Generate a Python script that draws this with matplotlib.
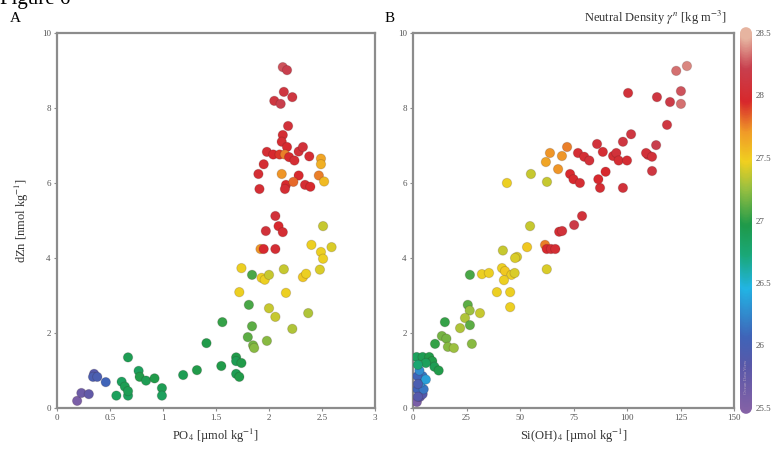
import numpy as np
import matplotlib.pyplot as plt
from matplotlib.colors import LinearSegmentedColormap, Normalize

plt.rcParams['font.family'] = ['Liberation Serif', 'DejaVu Serif']
plt.rcParams['mathtext.fontset'] = 'stix'

# --- panel A: dZn vs PO4 ---
po4 = [0.19, 0.23, 0.30, 0.35, 0.34, 0.38, 0.46,
       0.56, 0.67, 0.61, 0.64, 0.67, 0.67, 0.77, 0.78, 0.84, 0.92, 0.99, 0.99,
       1.19, 1.32, 1.41, 1.56, 1.55, 1.69, 1.69, 1.74, 1.69, 1.72, 1.80, 1.85,
       1.86, 1.81, 1.84, 1.98, 1.84,
       1.74, 1.72, 1.93, 1.96, 2.00, 2.14, 2.16, 2.00, 2.06, 2.22, 2.37, 2.32,
       2.35, 2.48, 2.40, 2.49, 2.51, 2.59, 2.51,
       1.92, 1.95, 2.06, 1.97, 2.09, 2.13, 2.06,
       2.13, 2.17, 2.14, 2.22, 2.05, 2.11, 2.18, 2.13, 2.12, 2.17, 1.98, 2.04,
       2.10, 2.15, 2.19, 2.24, 2.28, 2.32, 2.38, 2.49, 2.49, 1.95, 1.90, 1.91,
       2.12, 2.16, 2.15, 2.28, 2.34, 2.39, 2.47, 2.52, 2.23]
dzn_a = [0.19, 0.40, 0.37, 0.91, 0.83, 0.83, 0.69,
         0.33, 1.35, 0.70, 0.57, 0.33, 0.45, 0.99, 0.83, 0.73, 0.79, 0.53, 0.33,
         0.88, 1.01, 1.73, 2.29, 1.12, 1.35, 1.25, 1.20, 0.91, 0.83, 1.89, 1.67,
         1.60, 2.75, 2.18, 1.79, 3.55,
         3.73, 3.09, 3.47, 3.42, 3.55, 3.70, 3.07, 2.66, 2.43, 2.11, 2.53, 3.49,
         3.58, 3.69, 4.35, 4.16, 3.98, 4.29, 4.85,
         4.24, 4.24, 4.24, 4.72, 4.85, 4.69, 5.12,
         9.09, 9.01, 8.43, 8.29, 8.19, 8.11, 7.52, 7.28, 7.10, 6.96, 6.83, 6.76,
         6.76, 6.76, 6.69, 6.60, 6.84, 6.96, 6.71, 6.65, 6.50, 6.50, 6.24, 5.84,
         6.24, 5.95, 5.84, 6.20, 5.95, 5.90, 6.20, 6.04, 6.03]
gamma_a = [25.6, 25.7, 25.8, 25.9, 26.0, 26.0, 26.1,
           26.9, 26.95, 26.9, 26.95, 26.9, 26.95, 26.9, 27.0, 26.95, 27.0, 26.95, 26.9,
           26.95, 27.0, 27.0, 27.05, 27.0, 27.0, 26.95, 27.0, 26.95, 27.0, 27.15, 27.2,
           27.25, 27.1, 27.15, 27.25, 27.1,
           27.5, 27.5, 27.5, 27.5, 27.4, 27.4, 27.5, 27.4, 27.4, 27.35, 27.35, 27.55,
           27.5, 27.45, 27.5, 27.5, 27.5, 27.45, 27.4,
           27.75, 28.0, 28.05, 28.1, 28.0, 28.05, 28.1,
           28.3, 28.25, 28.15, 28.15, 28.15, 28.25, 28.1, 28.05, 28.05, 28.0, 28.05, 28.0,
           27.95, 27.8, 28.0, 28.05, 28.1, 28.1, 28.05, 27.7, 27.65, 28.05, 28.05, 28.05,
           27.75, 28.0, 28.05, 28.0, 28.05, 28.0, 27.8, 27.6, 27.85]

# --- panel B: dZn vs Si(OH)4 ---
si = [1.8, 3.3, 4.5, 2.1, 5.0, 3.7, 4.5, 2.1, 3.0, 6.0, 2.3, 2.3,
      1.7, 4.5, 7.6, 9.0, 10.0, 12.0, 6.0, 2.3,
      26.6, 32.2, 35.5, 41.6, 43.0, 46.0, 42.5, 47.5, 48.6, 42.0, 39.2, 45.4,
      45.4, 25.6, 26.5, 31.3, 24.3, 22.0, 26.6, 14.9, 27.5, 13.5, 15.6, 10.3,
      16.3, 19.1,
      54.7, 53.3, 47.7, 62.5, 61.7, 62.5, 64.5, 66.5, 68.3, 69.7, 75.3, 79.0,
      43.9, 55.1, 62.6, 62.1, 64.0, 69.6, 72.0, 67.8, 73.4, 75.0, 78.0, 77.1,
      80.0, 82.4, 86.0, 88.7, 90.0, 87.4, 86.6, 93.5, 95.0, 96.1, 98.1, 100.0,
      101.9, 98.1, 128.0, 123.0, 125.2, 125.2, 120.1, 114.0, 100.5, 118.7, 113.6,
      111.7, 109.8, 108.9, 111.7]
dzn_b = [0.16, 0.30, 0.37, 0.50, 0.50, 0.68, 0.85, 0.85, 1.00, 0.76, 0.64, 0.30,
         1.36, 1.36, 1.36, 1.25, 1.10, 1.00, 1.20, 1.15,
         3.55, 3.57, 3.60, 3.73, 3.65, 3.55, 3.41, 3.60, 4.03, 4.20, 3.09, 3.09,
         2.69, 2.75, 2.60, 2.53, 2.40, 2.13, 2.21, 2.29, 1.71, 1.92, 1.85, 1.71,
         1.63, 1.60,
         4.85, 4.29, 4.00, 3.70, 4.35, 4.24, 4.24, 4.24, 4.70, 4.72, 4.88, 5.12,
         6.00, 6.24, 6.03, 6.56, 6.80, 6.72, 6.96, 6.37, 6.24, 6.10, 6.00, 6.80,
         6.70, 6.60, 7.04, 6.83, 6.30, 5.87, 6.10, 6.72, 6.80, 6.60, 7.10, 6.60,
         7.30, 5.87, 9.12, 8.99, 8.45, 8.11, 8.16, 8.29, 8.40, 7.55, 7.01,
         6.32, 6.75, 6.80, 6.70]
gamma_b = [25.6, 25.8, 25.9, 26.1, 26.2, 26.3, 26.2, 26.1, 26.3, 26.4, 26.0, 25.9,
           26.9, 26.95, 27.0, 27.0, 26.95, 27.0, 26.9, 26.8,
           27.1, 27.5, 27.5, 27.5, 27.55, 27.5, 27.5, 27.45, 27.45, 27.4, 27.5, 27.5,
           27.5, 27.15, 27.3, 27.4, 27.35, 27.35, 27.15, 27.05, 27.25, 27.2, 27.2, 27.05,
           27.25, 27.3,
           27.4, 27.55, 27.45, 27.45, 27.8, 28.0, 28.05, 28.05, 28.05, 28.1, 28.2, 28.1,
           27.5, 27.4, 27.4, 27.7, 27.75, 27.75, 27.8, 27.75, 28.0, 28.0, 28.05, 28.05,
           28.05, 28.1, 28.1, 28.05, 28.0, 28.05, 28.0, 28.05, 28.1, 28.05, 28.15, 28.05,
           28.15, 28.1, 28.4, 28.35, 28.3, 28.35, 28.2, 28.15, 28.1, 28.15, 28.25,
           28.15, 28.1, 28.1, 28.1]

cbar_ticks = [25.5, 26, 26.5, 27, 27.5, 28, 28.5]
gmin, gmax = 25.5, 28.5

# ODV-like rainbow palette
odv = LinearSegmentedColormap.from_list('odv', [
    (0.00, '#8562a6'), (0.12, '#5a58a8'), (0.20, '#4064b8'),
    (0.33, '#22b4e4'), (0.42, '#1aa878'), (0.50, '#1f9a4a'),
    (0.60, '#9cc040'), (0.67, '#f0d020'), (0.75, '#f09a28'),
    (0.83, '#d8282c'), (0.92, '#c8404e'), (1.00, '#e6b4a0')])
norm = Normalize(gmin, gmax)

fig = plt.figure(figsize=(7.77, 4.54), dpi=100)
axA = fig.add_axes([57/777, 1-408/454, 318/777, 375/454])
axB = fig.add_axes([413/777, 1-408/454, 321/777, 375/454])
cax = fig.add_axes([741/777, 1-408/454, 10/777, 375/454])

frame_col = '#8c8c8c'
tick_col = '#555555'
for ax in (axA, axB):
    for sp in ax.spines.values():
        sp.set_color(frame_col)
        sp.set_linewidth(1.6)
    ax.tick_params(colors=frame_col, labelcolor=tick_col, labelsize=6.5,
                   length=2.5, width=0.8, pad=2)
    ax.set_ylim(0, 10)
    ax.set_yticks([0, 2, 4, 6, 8, 10])

dot_kw = dict(cmap=odv, norm=norm, s=46, linewidths=0.7,
              edgecolors=(0.2, 0.1, 0.1, 0.18), zorder=3)

axA.scatter(po4, dzn_a, c=gamma_a, **dot_kw)
axA.set_xlim(0, 3)
axA.set_xticks([0, 0.5, 1, 1.5, 2, 2.5, 3])
axA.set_xticklabels(['0', '0.5', '1', '1.5', '2', '2.5', '3'])
axA.set_xlabel(r'PO$_4$ [µmol kg$^{-1}$]', fontsize=9, color='#333333', labelpad=3)
axA.set_ylabel(r'dZn [nmol kg$^{-1}$]', fontsize=9, color='#333333', labelpad=8)

axB.scatter(si, dzn_b, c=gamma_b, **dot_kw)
axB.set_xlim(0, 150)
axB.set_xticks([0, 25, 50, 75, 100, 125, 150])
axB.set_xlabel(r'Si(OH)$_4$ [µmol kg$^{-1}$]', fontsize=9, color='#333333', labelpad=3)

# colour bar drawn as a column of dots, giving the rounded ends
gv = np.linspace(gmin, gmax, 400)
cax.scatter(np.zeros_like(gv), gv, c=gv, cmap=odv, norm=norm, s=70,
            linewidths=0, clip_on=False)
cax.set_xlim(-1, 1)
cax.set_ylim(gmin, gmax)
cax.set_xticks([])
cax.set_yticks(cbar_ticks)
cax.set_yticklabels(['25.5', '26', '26.5', '27', '27.5', '28', '28.5'])
cax.yaxis.tick_right()
cax.tick_params(length=0, labelsize=6.5, labelcolor=tick_col, pad=3)
for sp in cax.spines.values():
    sp.set_visible(False)
cax.text(0, 25.75, 'Ocean Data View', rotation=90, fontsize=3.5,
         color='#b0a0c0', ha='center', va='center')

fig.text(0.0, 1 - 4/454, 'Figure 6', fontsize=15, ha='left', va='baseline')
fig.text(15/777, 1 - 18/454, 'A', fontsize=11, ha='center', va='center')
fig.text(390/777, 1 - 18/454, 'B', fontsize=11, ha='center', va='center')
fig.text(727/777, 1 - 18/454, r'Neutral Density $\gamma^n$ [kg m$^{-3}$]',
         fontsize=9, ha='right', va='center', color='#333333')

fig.savefig('out.png', dpi=100)
